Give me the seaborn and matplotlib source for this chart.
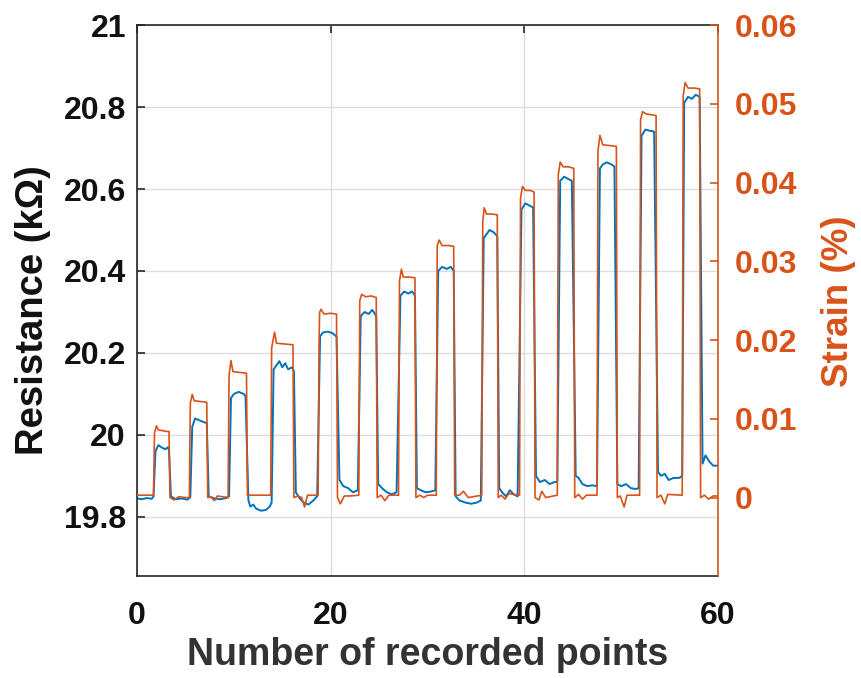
import numpy as np
import pandas as pd
import seaborn as sns
import matplotlib
matplotlib.use("Agg")
import matplotlib.pyplot as plt

# resistance trace (left axis), vertices
res_x = [0, 0.5, 1.0, 1.5, 1.7,
         1.9, 2.2, 2.5, 2.9, 3.2, 3.3, 3.5,
         4.0, 4.6, 5.2, 5.5,
         5.7, 6.0, 6.5, 7.0, 7.2, 7.4,
         8.0, 8.6, 9.2, 9.5,
         9.7, 10.0, 10.5, 11.0, 11.2, 11.5,
         11.7, 12.0, 12.3, 12.8, 13.3, 13.7, 13.9,
         14.1, 14.4, 14.7, 15.0, 15.3, 15.6, 16.0, 16.2, 16.4,
         16.8, 17.2, 17.7, 18.2, 18.6,
         18.9, 19.2, 19.7, 20.2, 20.6, 20.9,
         21.3, 21.8, 22.3, 22.8,
         23.1, 23.5, 23.9, 24.3, 24.7, 24.9,
         25.3, 25.8, 26.3, 26.8,
         27.2, 27.6, 28.0, 28.4, 28.7, 28.9,
         29.3, 29.8, 30.4, 30.8,
         31.1, 31.5, 32.0, 32.4, 32.7, 32.9,
         33.3, 33.9, 34.5, 35.1, 35.5,
         35.8, 36.1, 36.4, 36.8, 37.2, 37.4,
         37.7, 38.1, 38.5, 38.9, 39.3,
         39.7, 40.1, 40.5, 40.9, 41.2,
         41.6, 42.1, 42.6, 43.1, 43.4,
         43.7, 44.1, 44.5, 44.9, 45.3,
         45.6, 46.0, 46.5, 47.0, 47.5,
         47.8, 48.1, 48.5, 49.0, 49.3, 49.6,
         50.0, 50.5, 51.0, 51.5, 51.8,
         52.1, 52.5, 53.0, 53.4, 53.8,
         54.1, 54.5, 54.9, 55.4, 56.0, 56.3,
         56.5, 56.9, 57.3, 57.7, 58.1, 58.4,
         58.7, 59.1, 59.5, 60.0]
res_y = [19.845, 19.843, 19.846, 19.844, 19.85,
         19.96, 19.975, 19.97, 19.965, 19.97, 19.96, 19.85,
         19.843, 19.845, 19.842, 19.848,
         20.02, 20.04, 20.035, 20.03, 20.03, 19.85,
         19.845, 19.843, 19.846, 19.85,
         20.09, 20.1, 20.105, 20.1, 20.095, 19.84,
         19.825, 19.83, 19.82, 19.815, 19.817, 19.825, 19.835,
         20.16, 20.17, 20.18, 20.165, 20.175, 20.16, 20.165, 20.155, 19.86,
         19.845, 19.835, 19.83, 19.84, 19.85,
         20.24, 20.25, 20.252, 20.248, 20.24, 19.89,
         19.875, 19.87, 19.86, 19.865,
         20.29, 20.3, 20.295, 20.305, 20.29, 19.88,
         19.87, 19.86, 19.855, 19.86,
         20.34, 20.35, 20.345, 20.35, 20.34, 19.87,
         19.865, 19.86, 19.862, 19.865,
         20.40, 20.41, 20.405, 20.41, 20.40, 19.85,
         19.84, 19.835, 19.832, 19.835, 19.84,
         20.48, 20.49, 20.5, 20.495, 20.485, 19.87,
         19.86, 19.85, 19.865, 19.855, 19.85,
         20.55, 20.565, 20.56, 20.555, 19.9,
         19.885, 19.89, 19.88, 19.885, 19.885,
         20.62, 20.63, 20.625, 20.62, 19.9,
         19.895, 19.88, 19.875, 19.877, 19.875,
         20.65, 20.66, 20.665, 20.66, 20.655, 19.88,
         19.875, 19.88, 19.87, 19.868, 19.87,
         20.73, 20.745, 20.742, 20.74, 19.91,
         19.9, 19.905, 19.89, 19.895, 19.895, 19.9,
         20.81, 20.825, 20.82, 20.83, 20.825, 19.93,
         19.95, 19.935, 19.925, 19.925]

# strain trace (right axis)
str_x = [0, 1.7,
         1.8, 2.0, 2.2, 2.6, 3.0, 3.3, 3.4,
         3.8, 4.3, 5.0, 5.4,
         5.5, 5.7, 5.9, 6.5, 7.2, 7.3,
         7.6, 8.0, 8.3, 9.4,
         9.5, 9.7, 9.9, 10.5, 11.3, 11.4,
         12.5, 13.8,
         13.9, 14.2, 14.4, 15.2, 16.1, 16.2,
         16.6, 17.0, 17.3, 17.6, 18.7,
         18.8, 18.85, 19.0, 19.3, 20.0, 20.6, 20.7,
         21.0, 21.4, 22.0, 22.9,
         23.0, 23.2, 23.6, 24.2, 24.7, 24.8,
         25.2, 25.6, 26.0, 27.0,
         27.1, 27.3, 27.5, 28.2, 28.7, 28.8,
         29.2, 29.6, 30.0, 30.9,
         31.0, 31.2, 31.5, 32.2, 32.7, 32.8,
         33.3, 33.7, 34.2, 35.6,
         35.7, 35.85, 36.1, 36.7, 37.2, 37.3,
         37.6, 38.0, 38.4, 39.5,
         39.6, 39.8, 40.1, 40.6, 41.0, 41.1,
         41.5, 41.8, 42.2, 43.4,
         43.5, 43.7, 44.0, 44.6, 45.1, 45.2,
         45.6, 46.0, 46.4, 47.5,
         47.6, 47.8, 48.1, 48.8, 49.5, 49.6,
         49.9, 50.3, 50.6, 51.9,
         52.0, 52.2, 52.6, 53.2, 53.6, 53.7,
         54.1, 54.5, 54.8, 56.3,
         56.4, 56.6, 56.9, 57.6, 58.1, 58.2,
         58.6, 59.0, 59.5, 60.0]
str_y = [0.0003, 0.0003,
         0.0082, 0.0091, 0.0086, 0.0085, 0.0084, 0.0084, 0.0,
         -0.0003, 0.0001, 0.0, 0.0,
         0.012, 0.0131, 0.0123, 0.0122, 0.0121, 0.0,
         0.0001, -0.0004, 0.0002, 0.0,
         0.0155, 0.0174, 0.016, 0.0159, 0.0158, 0.0003,
         0.0003, 0.0003,
         0.019, 0.021, 0.0196, 0.0195, 0.0194, 0.0,
         0.0002, 0.0, -0.0012, 0.0003, 0.0003,
         0.02, 0.0235, 0.0239, 0.0233, 0.0234, 0.0233, 0.0,
         -0.0008, 0.0002, 0.0002, 0.0003,
         0.025, 0.0258, 0.0255, 0.0256, 0.0254, 0.0,
         0.0003, -0.0004, 0.0003, 0.0003,
         0.0275, 0.029, 0.028, 0.028, 0.0279, 0.0,
         0.0003, 0.0, 0.0003, 0.0003,
         0.032, 0.0327, 0.032, 0.032, 0.0319, 0.0003,
         0.0003, 0.0008, 0.0, 0.0003,
         0.035, 0.0368, 0.036, 0.036, 0.0359, 0.0,
         0.0003, -0.0002, 0.0005, 0.0003,
         0.038, 0.0395, 0.039, 0.039, 0.0388, 0.0,
         -0.0003, 0.0008, 0.0, 0.0003,
         0.041, 0.0426, 0.042, 0.042, 0.0418, 0.0,
         0.0004, -0.0002, 0.0003, 0.0003,
         0.044, 0.046, 0.0448, 0.0447, 0.0446, 0.0,
         0.0002, -0.0012, 0.0003, 0.0003,
         0.048, 0.049, 0.0487, 0.0486, 0.0485, 0.0,
         0.0003, -0.0008, 0.0004, 0.0003,
         0.051, 0.0527, 0.052, 0.052, 0.0519, 0.0,
         0.0003, -0.0002, 0.0002, 0.0002]

x_ticks = [0, 20, 40, 60]
res_ticks = [19.8, 20, 20.2, 20.4, 20.6, 20.8, 21]
res_ticklabels = ['19.8', '20', '20.2', '20.4', '20.6', '20.8', '21']
str_ticks = [0, 0.01, 0.02, 0.03, 0.04, 0.05, 0.06]
str_ticklabels = ['0', '0.01', '0.02', '0.03', '0.04', '0.05', '0.06']

blue = '#0072BD'
orange = '#D95319'
dark = '#262626'

sns.set_style('white')
plt.rcParams['font.family'] = ['Liberation Sans', 'DejaVu Sans']
plt.rcParams['font.weight'] = 'bold'

fig = plt.figure(figsize=(8.62, 6.78), dpi=100)
ax = fig.add_axes([0.159, 0.150, 0.674, 0.813])
ax2 = ax.twinx()

res_df = pd.DataFrame({'x': res_x, 'y': res_y})
str_df = pd.DataFrame({'x': str_x, 'y': str_y})
sns.lineplot(data=res_df, x='x', y='y', ax=ax, color=blue, lw=1.4,
             sort=False, estimator=None)
sns.lineplot(data=str_df, x='x', y='y', ax=ax2, color=orange, lw=1.2,
             sort=False, estimator=None)

ax.set_xlim(0, 60)
ax.set_ylim(19.655, 21)
ax2.set_ylim(-0.01, 0.06)

ax.set_xticks(x_ticks)
ax.set_xticklabels([str(t) for t in x_ticks])
ax.set_yticks(res_ticks)
ax.set_yticklabels(res_ticklabels)
ax2.set_yticks(str_ticks)
ax2.set_yticklabels(str_ticklabels)

ax.grid(True, color='#dcdcdc', lw=1.0)
ax.set_axisbelow(True)

for s in ['left', 'bottom', 'top']:
    ax.spines[s].set_color(dark)
    ax.spines[s].set_linewidth(1.2)
ax.spines['right'].set_visible(False)
for s in ['left', 'bottom', 'top']:
    ax2.spines[s].set_visible(False)
ax2.spines['right'].set_color(orange)
ax2.spines['right'].set_linewidth(1.2)

ax.tick_params(axis='x', direction='in', length=6, width=1.2, top=True,
               colors=dark, labelcolor='#111111', labelsize=23, pad=18)
ax.tick_params(axis='y', direction='in', length=6, width=1.2,
               colors=dark, labelcolor='#111111', labelsize=23, pad=8)
ax2.tick_params(axis='y', direction='in', length=6, width=1.2,
                colors=orange, labelcolor=orange, labelsize=23, pad=12)

ax.set_xlabel('Number of recorded points', fontsize=27, weight='bold',
              color='#333333', labelpad=4)
ax.set_ylabel('Resistance (k\u03a9)', fontsize=27.5, weight='bold',
              color='#111111', labelpad=9)
ax.yaxis.label.set_y(0.483)
ax2.set_ylabel('Strain (%)', fontsize=26.5, weight='bold', color=orange,
               labelpad=17)

fig.savefig('out.png', dpi=100)
